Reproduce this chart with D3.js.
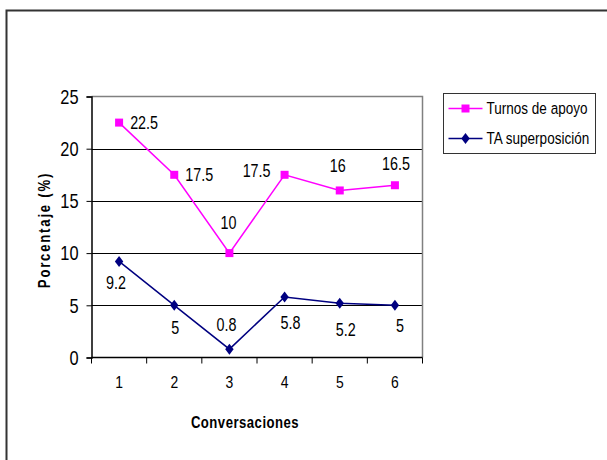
<!DOCTYPE html>
<html>
<head>
<meta charset="utf-8">
<script src="https://cdn.jsdelivr.net/npm/d3@7"></script>
<style>
  html, body { margin: 0; padding: 0; background: #fff; }
  svg { display: block; }
  text { font-family: "Liberation Sans", Arial, sans-serif; fill: #000; }
</style>
</head>
<body>
<svg id="chart" width="607" height="460"></svg>
<script>
// Conversation numbers on the x axis
const categories = ["1", "2", "3", "4", "5", "6"];
// Percentage of support turns per conversation
const turnosApoyo = [22.5, 17.5, 10, 17.5, 16, 16.5];
// Percentage of overlapping support turns per conversation
const taSuperposicion = [9.2, 5, 0.8, 5.8, 5.2, 5];
// Y axis ticks
const yTicks = [0, 5, 10, 15, 20, 25];
const seriesNames = ["Turnos de apoyo", "TA superposición"];

// Data label placement relative to each marker (dx, dy)
const labelOffsetsApoyo = [[25, 0], [25, 0], [-1, -30], [-28, -4], [-2, -25], [1, -22]];
const labelOffsetsSup = [[-3, 21], [1, 22], [-3, -24], [6, 26], [6, 26], [5, 20]];

const svg = d3.select("#chart");
const NARROW = 0.82; // horizontal squeeze giving a narrow sans face

// Draws a horizontally condensed text anchored at (x, y)
function narrowText(parent, x, y, str, opts = {}) {
  const g = parent.append("g")
    .attr("transform", `translate(${x},${y})${opts.rotate ? ` rotate(${opts.rotate})` : ""} scale(${NARROW},1)`);
  const t = g.append("text")
    .attr("text-anchor", opts.anchor || "middle")
    .attr("dy", opts.dy || "0.36em")
    .attr("font-size", opts.size || 16)
    .text(str);
  if (opts.weight) t.attr("font-weight", opts.weight);
  if (opts.spacing) t.attr("letter-spacing", opts.spacing);
  return t;
}

// Outer chart frame
svg.append("rect")
  .attr("x", 6.5).attr("y", 10.5)
  .attr("width", 700).attr("height", 500)
  .attr("fill", "none").attr("stroke", "#333").attr("stroke-width", 2);

const plot = { left: 91.5, right: 422.5, top: 96.5, bottom: 357.5 };

const x = d3.scaleBand().domain(categories).range([plot.left, plot.right]).padding(0);
const y = d3.scaleLinear().domain([0, 25]).range([plot.bottom, plot.top]);
const cx = d => x(d) + x.bandwidth() / 2;

// Horizontal gridlines
svg.append("g").selectAll("line")
  .data(yTicks.filter(t => t > 0 && t < 25))
  .join("line")
  .attr("x1", plot.left).attr("x2", plot.right)
  .attr("y1", d => Math.round(y(d)) + 0.5).attr("y2", d => Math.round(y(d)) + 0.5)
  .attr("stroke", "#000").attr("stroke-width", 1);

// Plot area frame: top and right in gray
svg.append("path")
  .attr("d", `M${plot.left},${plot.top}H${plot.right}V${plot.bottom}`)
  .attr("fill", "none").attr("stroke", "#808080").attr("stroke-width", 1.5);

// Y axis line and ticks
const yAxis = svg.append("g")
  .attr("transform", `translate(${plot.left},0)`)
  .call(d3.axisLeft(y).tickValues(yTicks).tickSize(5).tickFormat(""));
yAxis.select(".domain").attr("stroke", "#000").attr("stroke-width", 1.5);
yAxis.selectAll(".tick line").attr("stroke", "#000");
yTicks.forEach(t => narrowText(svg, plot.left - 13, y(t), String(t), { anchor: "end", size: 20 }));

// X axis: ticks on category boundaries, labels at centers
const xAxisG = svg.append("g").attr("transform", `translate(0,${plot.bottom})`);
xAxisG.append("line")
  .attr("x1", plot.left).attr("x2", plot.right)
  .attr("stroke", "#000").attr("stroke-width", 1.5);
const boundaries = categories.map(c => x(c)).concat([x(categories[categories.length - 1]) + x.bandwidth()]);
xAxisG.selectAll("line.tick")
  .data(boundaries)
  .join("line").attr("class", "tick")
  .attr("x1", d => d).attr("x2", d => d)
  .attr("y1", 0).attr("y2", 6)
  .attr("stroke", "#000");
categories.forEach(c => narrowText(svg, cx(c), plot.bottom + 24, c, { size: 17 }));

// Axis titles
narrowText(svg, 245, 422, "Conversaciones", { size: 16, weight: "bold", spacing: 0.6 });
narrowText(svg, 50, 230, "Porcentaje (%)", { size: 16, weight: "bold", spacing: 2.2, rotate: -90, dy: "0" });

const line = d3.line().x(d => cx(d.cat)).y(d => y(d.v));
const apoyo = categories.map((c, i) => ({ cat: c, v: turnosApoyo[i] }));
const sup = categories.map((c, i) => ({ cat: c, v: taSuperposicion[i] }));

const pink = "#FF00FF", navy = "#000080";
const square = d3.symbol().type(d3.symbolSquare).size(64);
const diamond = "M0,-5.5L4.2,0L0,5.5L-4.2,0Z";

// Series lines
svg.append("path").datum(apoyo).attr("d", line)
  .attr("fill", "none").attr("stroke", pink).attr("stroke-width", 1.5);
svg.append("path").datum(sup).attr("d", line)
  .attr("fill", "none").attr("stroke", navy).attr("stroke-width", 1.5);

// Markers
svg.append("g").selectAll("path").data(apoyo).join("path")
  .attr("d", square)
  .attr("transform", d => `translate(${cx(d.cat)},${y(d.v)})`)
  .attr("fill", pink);
svg.append("g").selectAll("path").data(sup).join("path")
  .attr("d", diamond)
  .attr("transform", d => `translate(${cx(d.cat)},${y(d.v)})`)
  .attr("fill", navy);

// Data labels
const labels = svg.append("g");
apoyo.forEach((d, i) => narrowText(labels, cx(d.cat) + labelOffsetsApoyo[i][0], y(d.v) + labelOffsetsApoyo[i][1], String(d.v), { size: 17.5 }));
sup.forEach((d, i) => narrowText(labels, cx(d.cat) + labelOffsetsSup[i][0], y(d.v) + labelOffsetsSup[i][1], String(d.v), { size: 17.5 }));

// Legend
const lg = svg.append("g").attr("transform", "translate(443.5,93.5)");
lg.append("rect").attr("width", 152).attr("height", 60)
  .attr("fill", "#fff").attr("stroke", "#333").attr("stroke-width", 1);
const legendItems = [
  { name: seriesNames[0], color: pink, shape: square(), yy: 15 },
  { name: seriesNames[1], color: navy, shape: diamond, yy: 45 }
];
legendItems.forEach(it => {
  lg.append("line").attr("x1", 5).attr("x2", 39).attr("y1", it.yy).attr("y2", it.yy)
    .attr("stroke", it.color).attr("stroke-width", 1.5);
  lg.append("path").attr("d", it.shape).attr("transform", `translate(22,${it.yy})`).attr("fill", it.color);
  narrowText(lg, 43, it.yy, it.name, { anchor: "start", size: 16.5 });
});
</script>
</body>
</html>
